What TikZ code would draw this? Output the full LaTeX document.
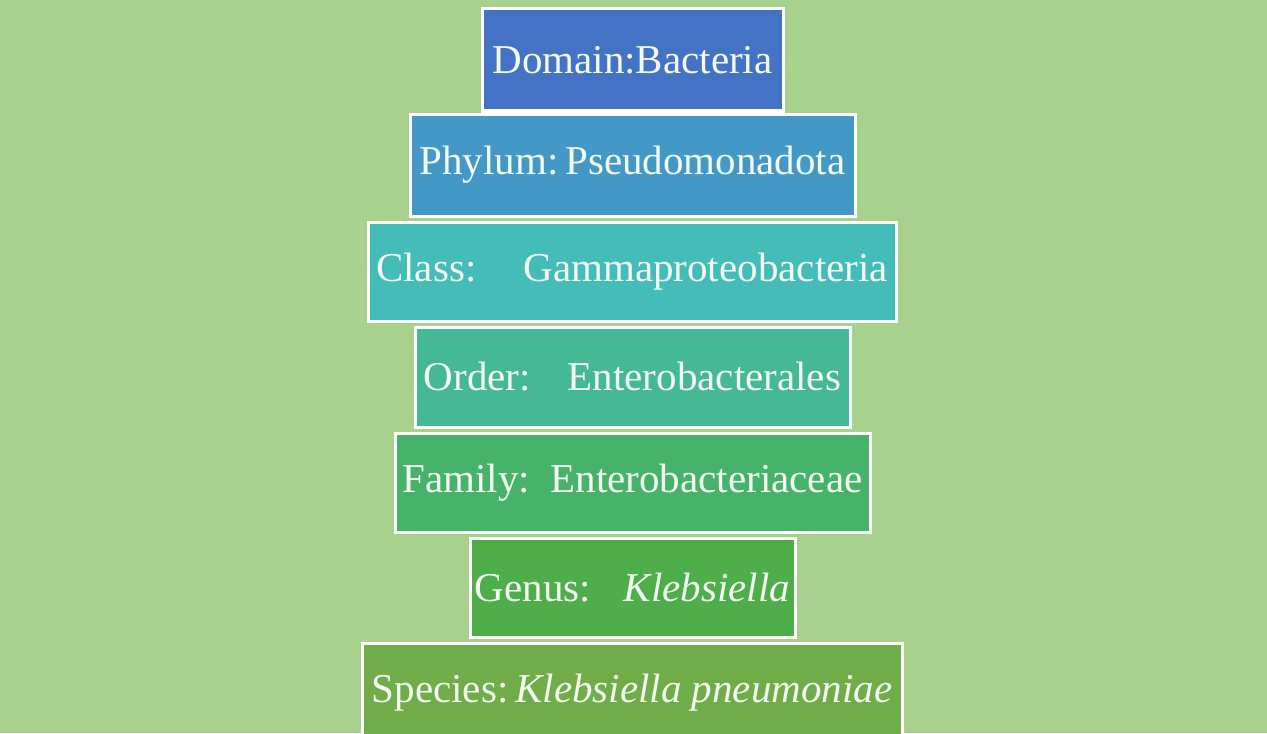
\documentclass[tikz,border=0pt]{standalone}
\usepackage{fontspec}
\setmainfont{Liberation Serif}
\definecolor{bg}{HTML}{A9D18E}
\definecolor{cDomain}{HTML}{4472C4}
\definecolor{cPhylum}{HTML}{4498C6}
\definecolor{cClass}{HTML}{44BCB8}
\definecolor{cOrder}{HTML}{45B896}
\definecolor{cFamily}{HTML}{47B26A}
\definecolor{cGenus}{HTML}{4EAE4A}
\definecolor{cSpecies}{HTML}{70AC48}
\definecolor{txt}{HTML}{F2FAF2}
\begin{document}
\begin{tikzpicture}[x=0.5pt,y=-0.5pt,
  rank/.style={draw=white, line width=1.5pt, text=txt, inner sep=0pt, outer sep=0pt,
    font=\fontsize{20.5}{24}\selectfont, anchor=center}]
\useasboundingbox (0,0) rectangle (1267,733);
\clip (0,0) rectangle (1267,733);
\fill[bg] (0,0) rectangle (1267,733);
\node[rank, fill=cDomain, minimum width=150.5pt, minimum height=51pt] (domain) at (632.5,60) {Domain:Bacteria};
\node[rank, fill=cPhylum, minimum width=222.5pt, minimum height=51pt] (phylum) at (632.5,165) {Phylum:\,Pseudomonadota};
\node[rank, fill=cClass, minimum width=264pt, minimum height=49.5pt] (class) at (632,271.5) {Class:\hspace{1.15em}Gammaproteobacteria};
\node[rank, fill=cOrder, minimum width=217.5pt, minimum height=50pt] (order) at (632.5,377) {Order:\hspace{0.9em}Enterobacterales};
\node[rank, fill=cFamily, minimum width=237.5pt, minimum height=49.5pt] (family) at (632.5,482.5) {Family:\hspace{0.5em}Enterobacteriaceae};
\node[rank, fill=cGenus, minimum width=162.5pt, minimum height=49.5pt] (genus) at (632.5,587.5) {Genus:\hspace{0.8em}\textit{Klebsiella}};
\node[rank, fill=cSpecies, minimum width=270pt, minimum height=50pt] (species) at (632,693) {Species:\,\textit{Klebsiella pneumoniae}};
\end{tikzpicture}
\end{document}
